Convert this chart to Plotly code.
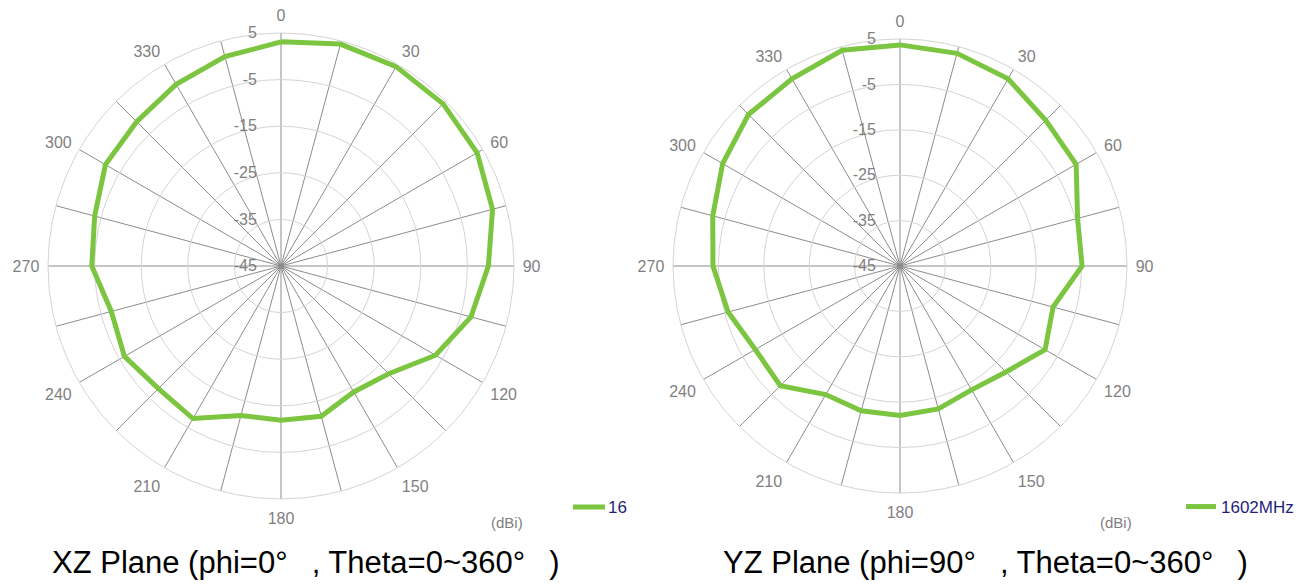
import plotly.graph_objects as go

theta = list(range(0, 360, 15))
xz_1602 = [3.1, 4.3, 4.4, 4.2, 3.6, 2.0, -0.5, -2.8, -6.7, -12.3, -13.8, -11.6,
           -11.9, -11.8, -7.2, -7.8, -6.2, -7.3, -4.4, -3.6, -1.5, -1.2, 0.0, 1.5]
yz_1602 = [3.7, 3.5, 2.6, 0.4, -0.2, -4.5, -4.9, -10.1, -8.1, -12.0, -13.5, -12.4,
           -12.1, -12.0, -12.3, -7.7, -8.2, -5.8, -3.8, -2.3, 0.1, 2.2, 2.6, 4.2]
series_name = "1602MHz"
radial_ticks = [-45, -35, -25, -15, -5, 5]
radial_labels = [str(v) for v in radial_ticks]
angle_labels = [str(t) if t % 30 == 0 else "" for t in theta]
titles = ["XZ Plane (phi=0°\u2002 , Theta=0~360°\u2002 )",
          "YZ Plane (phi=90°\u2002 , Theta=0~360°\u2002 )"]

GREEN = "#7cc540"
FONT = "Liberation Sans, Arial, sans-serif"
W, H = 1312, 584

fig = go.Figure()
fig.add_trace(go.Scatterpolar(r=xz_1602 + xz_1602[:1], theta=theta + theta[:1],
                              mode="lines", line=dict(color=GREEN, width=5),
                              name=series_name, subplot="polar", showlegend=False))
fig.add_trace(go.Scatterpolar(r=yz_1602 + yz_1602[:1], theta=theta + theta[:1],
                              mode="lines", line=dict(color=GREEN, width=5),
                              name=series_name, subplot="polar2", legend="legend2",
                              showlegend=True))


def polar_cfg(cx, cy, rad):
    # cx, cy in pixels from top-left; rad in pixels
    yb = H - cy
    return dict(
        domain=dict(x=[(cx - rad) / W, (cx + rad) / W], y=[(yb - rad) / H, (yb + rad) / H]),
        gridshape="linear",
        bgcolor="white",
        angularaxis=dict(rotation=90, direction="clockwise", tickmode="array",
                         tickvals=theta, ticktext=angle_labels,
                         ticks="outside", ticklen=5, tickcolor="rgba(0,0,0,0)",
                         tickfont=dict(family=FONT, size=16, color="#7f7f7f"),
                         gridcolor="#8c8c8c", gridwidth=1,
                         showline=True, linecolor="#d4d4d4", linewidth=1),
        radialaxis=dict(range=[-45, 5], tickmode="array", tickvals=radial_ticks,
                        ticktext=radial_labels,
                        angle=90, tickangle=90, side="counterclockwise",
                        ticks="outside", ticklen=18, tickcolor="rgba(0,0,0,0)",
                        tickfont=dict(family=FONT, size=16, color="#7f7f7f"),
                        gridcolor="#d4d4d4", gridwidth=1, showline=False),
    )


fig.update_layout(
    width=W, height=H,
    margin=dict(l=0, r=0, t=0, b=0),
    paper_bgcolor="white",
    polar=polar_cfg(281, 266, 233),
    polar2=polar_cfg(900, 266, 227),
    legend2=dict(x=1181 / W, y=1 - 507 / H, xanchor="left", yanchor="middle",
                 font=dict(family=FONT, size=17, color="#1f1f7a"),
                 bgcolor="rgba(0,0,0,0)", itemwidth=30),
    annotations=[
        dict(text=titles[0], x=306 / W, y=1 - 562 / H, xref="paper", yref="paper",
             xanchor="center", yanchor="middle", showarrow=False,
             font=dict(family=FONT, size=31, color="black")),
        dict(text=titles[1], x=986 / W, y=1 - 562 / H, xref="paper", yref="paper",
             xanchor="center", yanchor="middle", showarrow=False,
             font=dict(family=FONT, size=31, color="black")),
        dict(text="(dBi)", x=507 / W, y=1 - 522 / H, xref="paper", yref="paper",
             xanchor="center", yanchor="middle", showarrow=False,
             font=dict(family=FONT, size=15, color="#7f7f7f")),
        dict(text="(dBi)", x=1116 / W, y=1 - 522 / H, xref="paper", yref="paper",
             xanchor="center", yanchor="middle", showarrow=False,
             font=dict(family=FONT, size=15, color="#7f7f7f")),
        dict(text="16", x=606 / W, y=1 - 507 / H, xref="paper", yref="paper",
             xanchor="left", yanchor="middle", showarrow=False,
             font=dict(family=FONT, size=17, color="#1f1f7a")),
    ],
    shapes=[dict(type="line", xref="paper", yref="paper",
                 x0=573 / W, x1=605 / W, y0=1 - 507 / H, y1=1 - 507 / H,
                 line=dict(color=GREEN, width=5))],
)

fig.write_html("out.html", config={"displayModeBar": False},
               post_script="document.body.style.margin='0';document.body.style.overflow='hidden';")
